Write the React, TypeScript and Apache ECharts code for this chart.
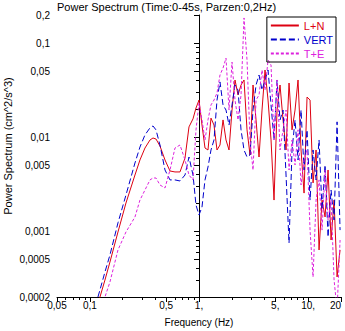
import React, { useEffect, useRef } from "react";
import * as echarts from "echarts";

const titleText = "Power Spectrum (Time:0-45s, Parzen:0,2Hz)";
const xName = "Frequency (Hz)";
const yName = "Power Spectrum (cm^2/s^3)";

const xMajor = [0.05, 0.1, 0.5, 1, 5, 10, 20];
const xMajorLabels = ["0,05", "0,1", "0,5", "1,", "5,", "10,", "20"];
const xMinor = [0.06, 0.07, 0.08, 0.09, 0.2, 0.3, 0.4, 0.6, 0.7, 0.8, 0.9, 2, 3, 4, 6, 7, 8, 9];

const yMajor = [0.0002, 0.0005, 0.001, 0.005, 0.01, 0.05, 0.1, 0.2];
const yMajorLabels = ["0,0002", "0,0005", "0,001", "0,005", "0,01", "0,05", "0,1", "0,2"];
const yMinor = [0.0003, 0.0004, 0.0006, 0.0007, 0.0008, 0.0009, 0.002, 0.003, 0.004, 0.006, 0.007, 0.008, 0.009, 0.02, 0.03, 0.04, 0.06, 0.07, 0.08, 0.09];

const freqs = [0.1186, 0.1238, 0.1375, 0.1528, 0.181, 0.2142, 0.259, 0.2878, 0.3199, 0.3556, 0.3789, 0.4035, 0.439, 0.488, 0.5423, 0.6026, 0.6697, 0.7443, 0.8096, 0.8811, 0.9387, 1.0, 1.065, 1.135, 1.209, 1.288, 1.372, 1.462, 1.557, 1.66, 1.768, 1.884, 2.007, 2.138, 2.278, 2.427, 2.585, 2.754, 2.934, 3.126, 3.331, 3.548, 3.78, 4.027, 4.291, 4.571, 4.869, 5.188, 5.526, 5.888, 6.272, 6.683, 7.119, 7.585, 8.081, 8.609, 9.172, 9.771, 10.41, 11.09, 11.82, 12.59, 13.41, 14.29, 15.22, 16.22, 17.28, 18.41, 19.61];

const seriesNames = ["L+N", "VERT", "T+E"];

const lnValues = [0.000164, 0.0002, 0.000303, 0.000471, 0.000983, 0.002, 0.00397, 0.00574, 0.00769, 0.00936, 0.00983, 0.00959, 0.00808, 0.00574, 0.00438, 0.00428, 0.00428, 0.00602, 0.0129, 0.0157, 0.0205, 0.0249, 0.0135, 0.00769, 0.00733, 0.016, 0.0135, 0.00733, 0.00828, 0.0153, 0.00936, 0.00733, 0.0195, 0.0407, 0.0282, 0.036, 0.0407, 0.012, 0.00648, 0.036, 0.0153, 0.00617, 0.0195, 0.052, 0.0249, 0.00936, 0.00215, 0.0195, 0.036, 0.0153, 0.00733, 0.0378, 0.012, 0.0195, 0.0407, 0.00733, 0.00255, 0.0268, 0.0249, 0.00327, 0.00733, 0.000633, 0.00215, 0.00142, 0.00449, 0.000808, 0.00215, 0.000327, 0.000633];

const vertValues = [0.0002, 0.000238, 0.000369, 0.00056, 0.00123, 0.00243, 0.00533, 0.00788, 0.0106, 0.0126, 0.0132, 0.012, 0.00828, 0.00449, 0.00352, 0.00352, 0.00343, 0.00397, 0.00617, 0.00397, 0.0019, 0.00149, 0.00181, 0.00352, 0.00483, 0.00733, 0.00936, 0.0249, 0.0388, 0.0221, 0.0195, 0.0135, 0.0221, 0.036, 0.0318, 0.012, 0.00733, 0.00617, 0.00648, 0.0195, 0.036, 0.046, 0.0318, 0.0407, 0.052, 0.0221, 0.00936, 0.0407, 0.0153, 0.0195, 0.00397, 0.000751, 0.00733, 0.0153, 0.00574, 0.0195, 0.00449, 0.012, 0.00215, 0.00733, 0.00352, 0.00936, 0.00169, 0.00508, 0.000869, 0.00275, 0.00132, 0.0146, 0.00103];

const teValues = [0.0001, 0.000129, 0.0002, 0.000289, 0.000633, 0.000983, 0.00142, 0.00215, 0.00275, 0.00352, 0.00369, 0.00369, 0.00311, 0.00289, 0.00449, 0.00769, 0.00828, 0.00574, 0.00397, 0.00352, 0.012, 0.0232, 0.0153, 0.00936, 0.0153, 0.0221, 0.0249, 0.0296, 0.046, 0.0545, 0.0697, 0.0195, 0.0632, 0.0249, 0.0153, 0.0282, 0.186, 0.0664, 0.00936, 0.00449, 0.0249, 0.0282, 0.052, 0.0318, 0.0664, 0.0587, 0.00936, 0.0407, 0.00733, 0.012, 0.0195, 0.00449, 0.00936, 0.00508, 0.012, 0.00311, 0.00574, 0.00733, 0.00103, 0.000327, 0.00215, 0.00352, 0.00103, 0.00449, 0.00132, 0.00215, 0.000303, 0.000146, 0.000808];

const colors = ["#dd0011", "#0000cc", "#dd22dd"];
const FONT = "'Liberation Sans', Arial, sans-serif";

const lg = (v: number) => Math.log10(v);
const labelFor = (majors: number[], labels: string[]) => (v: number) => {
  for (let i = 0; i < majors.length; i++) {
    if (Math.abs(lg(majors[i]) - v) < 1e-6) return labels[i];
  }
  return "";
};

export default function App() {
  const ref = useRef<HTMLDivElement>(null);
  useEffect(() => {
    if (!ref.current) return;
    const chart = echarts.init(ref.current, null, { renderer: "svg" });
    const xMin = lg(0.05), xMax = lg(20), yMin = lg(0.0002), yMax = lg(0.2);
    const toData = (vals: number[]) => freqs.map((f, i) => [lg(f), lg(vals[i])]);
    const axisCommon = { lineStyle: { color: "#000", width: 1 } };
    chart.setOption({
      animation: false,
      title: {
        text: titleText,
        left: 57,
        top: 1,
        padding: 0,
        textStyle: { fontSize: 11, fontWeight: "normal", color: "#000", fontFamily: FONT },
      },
      graphic: [
        {
          type: "text",
          x: 8,
          y: 146,
          rotation: Math.PI / 2,
          style: {
            text: yName,
            fontSize: 11,
            fontFamily: FONT,
            fill: "#000",
            align: "center",
            verticalAlign: "middle",
          },
        },
      ],
      legend: {
        orient: "vertical",
        right: 9,
        top: 17,
        padding: [3, 3, 3, 3],
        itemGap: 3,
        itemWidth: 28,
        itemHeight: 12,
        borderColor: "#000",
        borderWidth: 1,
        itemStyle: { opacity: 0 },
        textStyle: { fontSize: 11, fontFamily: FONT },
        data: seriesNames.map((n, i) => ({ name: n, textStyle: { color: colors[i] } })),
      },
      grid: { left: 57, right: 4, top: 15, bottom: 34, outerBoundsMode: "none" },
      xAxis: [
        {
          type: "value",
          min: xMin,
          max: xMax,
          position: "bottom",
          name: xName,
          nameLocation: "middle",
          nameGap: 20,
          nameTextStyle: { fontSize: 10, color: "#000", fontFamily: FONT },
          axisLine: axisCommon,
          axisTick: { show: true, length: 5, lineStyle: { color: "#000" }, customValues: xMajor.map(lg) },
          axisLabel: {
            customValues: xMajor.map(lg),
            formatter: labelFor(xMajor, xMajorLabels),
            fontSize: 10,
            color: "#000",
            fontFamily: FONT,
            margin: 3,
            alignMaxLabel: "right",
          },
          splitLine: { show: false },
        },
        {
          type: "value",
          min: xMin,
          max: xMax,
          position: "bottom",
          axisLine: { show: false },
          axisTick: { show: true, length: 3, lineStyle: { color: "#000" }, customValues: xMinor.map(lg) },
          axisLabel: { show: false },
          splitLine: { show: false },
        },
      ],
      yAxis: [
        {
          type: "value",
          min: yMin,
          max: yMax,
          position: "left",
          axisLine: axisCommon,
          axisTick: { show: true, length: 5, lineStyle: { color: "#000" }, customValues: yMajor.map(lg) },
          axisLabel: {
            customValues: yMajor.map(lg),
            formatter: labelFor(yMajor, yMajorLabels),
            fontSize: 10,
            color: "#000",
            fontFamily: FONT,
            margin: 7,
          },
          splitLine: { show: false },
        },
        {
          type: "value",
          min: yMin,
          max: yMax,
          position: "left",
          axisLine: { show: false },
          axisTick: { show: true, length: 3, lineStyle: { color: "#000" }, customValues: yMinor.map(lg) },
          axisLabel: { show: false },
          splitLine: { show: false },
        },
      ],
      series: [
        {
          name: seriesNames[0],
          type: "line",
          symbol: "none",
          data: toData(lnValues),
          lineStyle: { color: colors[0], width: 1, type: "solid" },
          itemStyle: { color: colors[0] },
        },
        {
          name: seriesNames[1],
          type: "line",
          symbol: "none",
          data: toData(vertValues),
          lineStyle: { color: colors[1], width: 1, type: [6, 3] },
          itemStyle: { color: colors[1] },
        },
        {
          name: seriesNames[2],
          type: "line",
          symbol: "none",
          data: toData(teValues),
          lineStyle: { color: colors[2], width: 1, type: [3, 2] },
          itemStyle: { color: colors[2] },
        },
      ],
    });
    return () => chart.dispose();
  }, []);
  return (
    <div
      ref={ref}
      style={{ position: "fixed", left: 0, top: 0, width: 345, height: 331, background: "#fff" }}
    />
  );
}
